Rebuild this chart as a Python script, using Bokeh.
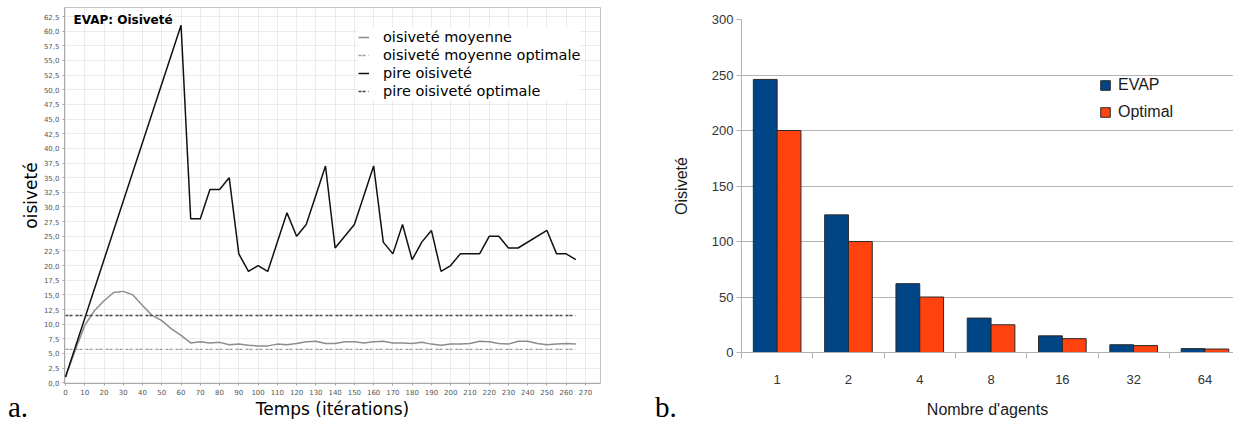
from bokeh.plotting import figure
from bokeh.layouts import row, column
from bokeh.models import (FixedTicker, CustomJSTickFormatter, Legend, LegendItem, Label,
                          ColumnDataSource, Range1d, Div)
from bokeh.transform import dodge
from bokeh.embed import file_html
from bokeh.resources import INLINE

# ---------------- data: chart a ----------------
iter_worst = [0, 60, 65, 70, 75, 80, 85, 90, 95, 100, 105, 115, 120, 125, 135, 140, 150, 160,
              165, 170, 175, 180, 185, 190, 195, 200, 205, 210, 215, 220, 225, 230, 235, 250,
              255, 260, 265]
worst = [1, 61, 28, 28, 33, 33, 35, 22, 19, 20, 19, 29, 25, 27, 37, 23, 27, 37,
         24, 22, 27, 21, 24, 26, 19, 20, 22, 22, 22, 25, 25, 23, 23, 26,
         22, 22, 21]
iter_mean = [0, 5, 10, 15, 20, 25, 30, 35, 40, 45, 50, 55, 60, 65, 70, 75, 80, 85, 90, 95,
             100, 105, 110, 115, 120, 125, 130, 135, 140, 145, 150, 155, 160, 165, 170, 175,
             180, 185, 190, 195, 200, 205, 210, 215, 220, 225, 230, 235, 240, 245, 250, 255,
             260, 265]
mean = [1.0, 5.5, 9.8, 12.3, 14.0, 15.4, 15.6, 15.0, 13.2, 11.5, 10.6, 9.2, 8.1, 6.8, 7.0, 6.8,
        6.9, 6.5, 6.6, 6.4, 6.3, 6.3, 6.6, 6.5, 6.7, 7.0, 7.1, 6.7, 6.7, 7.0, 7.0, 6.8, 7.0,
        7.1, 6.8, 6.8, 6.7, 6.9, 6.6, 6.4, 6.6, 6.6, 6.7, 7.1, 7.0, 6.7, 6.6, 7.1, 7.1, 6.7,
        6.5, 6.6, 6.7, 6.6]
iter_opt = [0, 265]
mean_opt = [5.7, 5.7]
worst_opt = [11.5, 11.5]
x_ticks_a = list(range(0, 271, 10))
y_ticks_a = [i * 2.5 for i in range(26)]

# ---------------- data: chart b ----------------
agents = ["1", "2", "4", "8", "16", "32", "64"]
evap = [246, 124, 62, 31, 15, 7, 3.5]
optimal = [200, 100, 50, 25, 12.5, 6.25, 3.125]
y_ticks_b = [0, 50, 100, 150, 200, 250, 300]

SANS_A = "DejaVu Sans"
SANS_B = "Liberation Sans"
SERIF = "Liberation Serif"
H = 421

# ================= chart a =================
pa = figure(width=640, height=H, output_backend="svg", toolbar_location=None,
            x_range=Range1d(-0.52, 277.8), y_range=Range1d(-0.12, 64.04),
            min_border_left=64, min_border_right=40, min_border_top=7, min_border_bottom=36)
pa.background_fill_color = "white"
pa.border_fill_color = "white"
pa.outline_line_color = "#c4c4c4"

r_mean = pa.line(iter_mean, mean, line_color="#8c8c8c", line_width=1.5)
r_mean_opt = pa.line(iter_opt, mean_opt, line_color="#9a9a9a", line_width=1.3, line_dash="3 1 3 3")
r_worst = pa.line(iter_worst, worst, line_color="#111111", line_width=1.5)
r_worst_opt = pa.line(iter_opt, worst_opt, line_color="#444444", line_width=1.5, line_dash="3 1 3 3")

for ax in (pa.xaxis[0], pa.yaxis[0]):
    ax.axis_line_color = "#a8a8a8"
    ax.major_tick_line_color = "#a8a8a8"
    ax.major_tick_out = 2
    ax.major_tick_in = 0
    ax.minor_tick_line_color = None
    ax.major_label_text_font = SANS_A
    ax.major_label_text_font_size = "7px"
    ax.major_label_text_color = "#555555"
    ax.major_label_standoff = 3
    ax.axis_label_text_font = SANS_A
    ax.axis_label_text_font_size = "17px"
    ax.axis_label_text_font_style = "normal"
    ax.axis_label_text_color = "#000000"

pa.xaxis.ticker = FixedTicker(ticks=x_ticks_a)
pa.yaxis.ticker = FixedTicker(ticks=y_ticks_a)
pa.yaxis.formatter = CustomJSTickFormatter(code="return tick.toFixed(1).replace('.', ',');")
pa.yaxis.axis_label = "oisiveté"
pa.yaxis.axis_label_standoff = 0
pa.xaxis.axis_label = "Temps (itérations)"
pa.xaxis.axis_label_standoff = 1

pa.grid.grid_line_color = "#d9d9d9"
pa.grid.grid_line_dash = "1 1"
pa.grid.grid_line_width = 1

leg_a = Legend(items=[
    LegendItem(label="oisiveté moyenne", renderers=[r_mean]),
    LegendItem(label="oisiveté moyenne optimale", renderers=[r_mean_opt]),
    LegendItem(label="pire oisiveté", renderers=[r_worst]),
    LegendItem(label="pire oisiveté optimale", renderers=[r_worst_opt]),
], location=(294, 283))
leg_a.padding = 5
leg_a.margin = 0
leg_a.spacing = 0
leg_a.glyph_width = 11
leg_a.glyph_height = 18
leg_a.label_height = 18
leg_a.label_standoff = 14
leg_a.label_text_font = SANS_A
leg_a.label_text_font_size = "14.5px"
leg_a.label_text_color = "#000000"
leg_a.border_line_color = None
leg_a.background_fill_color = "white"
leg_a.background_fill_alpha = 1
pa.add_layout(leg_a)

pa.add_layout(Label(x=73, y=12, x_units="canvas", y_units="canvas", text="EVAP: Oisiveté",
                    text_font=SANS_A, text_font_size="12px", text_font_style="bold",
                    text_color="#000000", text_baseline="top", text_align="left"))

# ================= chart b =================
src = ColumnDataSource(dict(pos=list(range(1, len(agents) + 1)), evap=evap, optimal=optimal))
pb = figure(width=593, height=H, output_backend="svg", toolbar_location=None,
            x_range=Range1d(0.5, 7.4), y_range=Range1d(0, 300),
            min_border_left=101, min_border_right=0, min_border_top=19, min_border_bottom=69)
pb.background_fill_color = "white"
pb.border_fill_color = "white"
pb.outline_line_color = None

r_evap = pb.vbar(x=dodge("pos", -0.167), top="evap", width=0.334, source=src,
                 fill_color="#004586", line_color="#2b2b2b", line_width=1)
r_opt = pb.vbar(x=dodge("pos", 0.167), top="optimal", width=0.334, source=src,
                fill_color="#ff420e", line_color="#2b2b2b", line_width=1)

pb.xgrid.grid_line_color = None
pb.ygrid.grid_line_color = "#b3b3b3"
pb.ygrid.grid_line_width = 1
pb.yaxis.ticker = FixedTicker(ticks=y_ticks_b)
pb.xaxis.ticker = FixedTicker(ticks=list(range(1, len(agents) + 1)),
                              minor_ticks=[i + 0.5 for i in range(len(agents) + 1)])
pb.xaxis.major_label_overrides = {i + 1: a for i, a in enumerate(agents)}

for ax in (pb.xaxis[0], pb.yaxis[0]):
    ax.axis_line_color = "#b3b3b3"
    ax.major_label_text_font = SANS_B
    ax.major_label_text_font_size = "13px"
    ax.major_label_text_color = "#333333"
    ax.axis_label_text_font = SANS_B
    ax.axis_label_text_font_size = "16px"
    ax.axis_label_text_font_style = "normal"
    ax.axis_label_text_color = "#1a1a1a"
pb.yaxis.major_tick_line_color = "#b3b3b3"
pb.yaxis.major_tick_out = 5
pb.yaxis.major_tick_in = 0
pb.yaxis.minor_tick_line_color = None
pb.yaxis.major_label_standoff = 3
pb.yaxis.axis_label = "Oisiveté"
pb.yaxis.axis_label_standoff = 19
pb.xaxis.major_tick_line_color = None
pb.xaxis.major_tick_out = 0
pb.xaxis.major_tick_in = 0
pb.xaxis.minor_tick_line_color = "#b3b3b3"
pb.xaxis.minor_tick_out = 6
pb.xaxis.minor_tick_in = 0
pb.xaxis.major_label_standoff = 16
pb.xaxis.axis_label = "Nombre d'agents"
pb.xaxis.axis_label_standoff = 14

leg_b = Legend(items=[
    LegendItem(label="EVAP", renderers=[r_evap]),
    LegendItem(label="Optimal", renderers=[r_opt]),
], location=(358, 230))
leg_b.padding = 0
leg_b.margin = 0
leg_b.spacing = 7
leg_b.glyph_width = 12
leg_b.glyph_height = 12
leg_b.label_height = 20
leg_b.label_standoff = 7
leg_b.label_text_font = SANS_B
leg_b.label_text_font_size = "16px"
leg_b.label_text_color = "#1a1a1a"
leg_b.border_line_color = None
leg_b.background_fill_alpha = 0
pb.add_layout(leg_b)

# ================= panel letters =================
letter_style = {"font-family": SERIF, "font-size": "29px", "line-height": "28px", "color": "#000000"}
div_a = Div(text="a.", width=30, height=28, margin=(-28, 0, 0, 8), styles=letter_style)
div_b = Div(text="b.", width=30, height=28, margin=(-28, 0, 0, 617), styles=letter_style)

layout = column(row(column(pa), column(pb), spacing=0), row(div_a, div_b, spacing=0), spacing=0)
open("out.html", "w").write(file_html(layout, INLINE))
